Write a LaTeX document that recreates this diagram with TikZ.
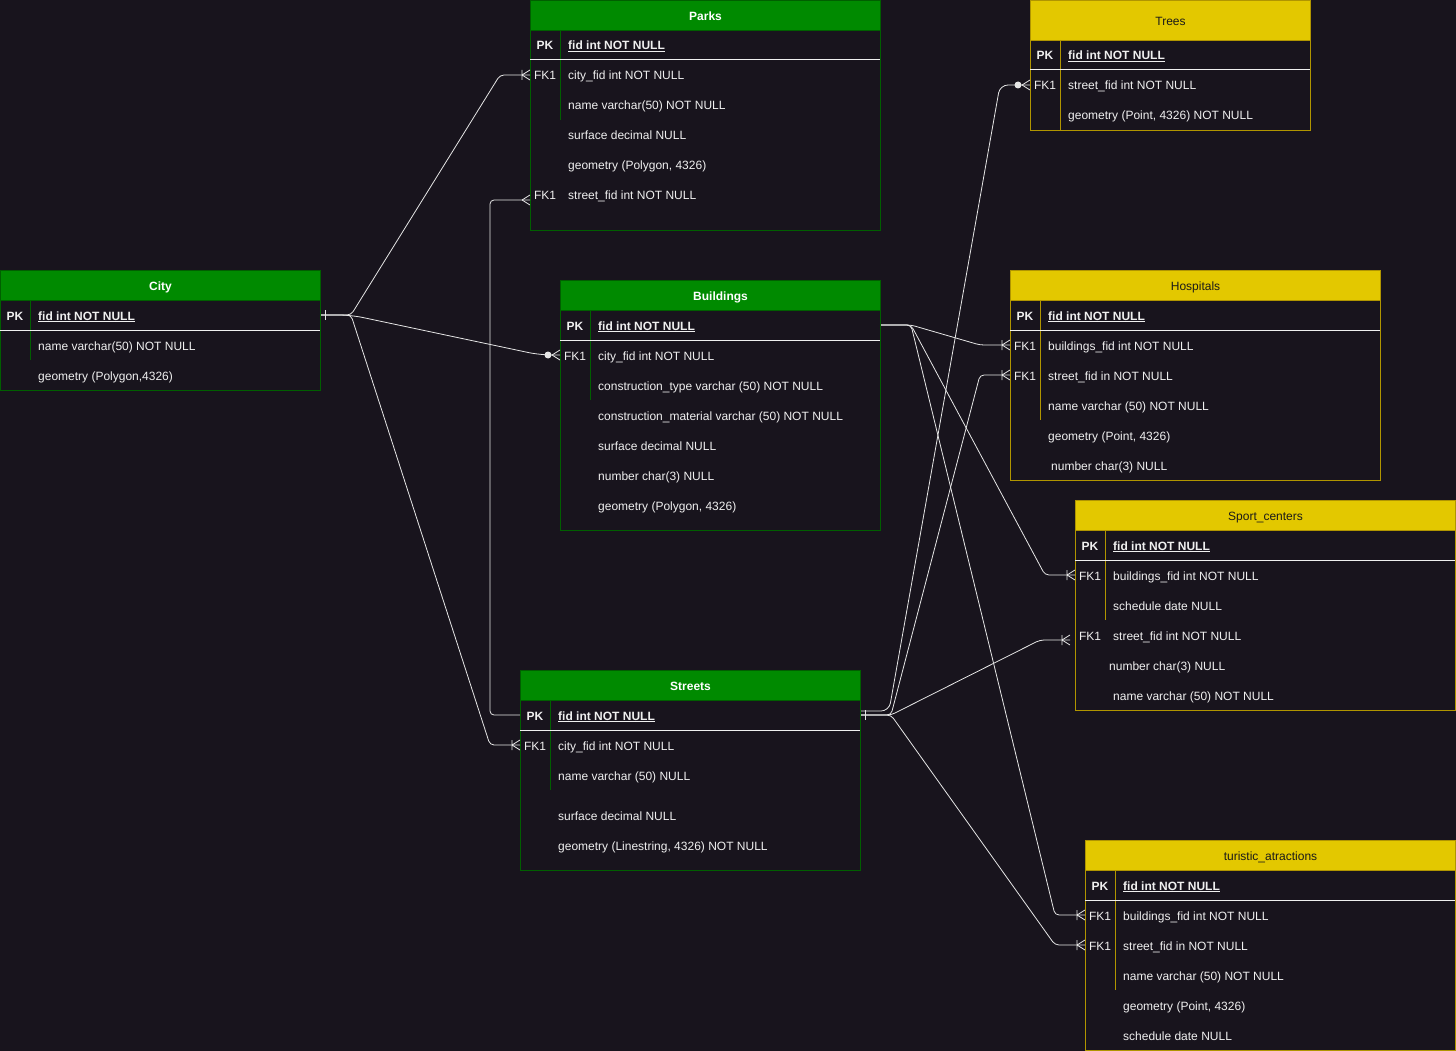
\documentclass[tikz,border=0pt]{standalone}
\usepackage{fontspec}
\setmainfont{Liberation Sans}
\usetikzlibrary{calc}
\definecolor{bg}{HTML}{18141D}
\definecolor{fg}{HTML}{F0F0F0}
\definecolor{grn}{HTML}{008A00}
\definecolor{grnline}{HTML}{005F00}
\definecolor{ylw}{HTML}{E3C800}
\definecolor{ylwline}{HTML}{B09500}
\definecolor{lnk}{HTML}{E6E6E6}
\definecolor{hdrtxt}{HTML}{1A1A1A}
\newcommand\erfont{\fontsize{12}{14}\selectfont}

\tikzset{
  every node/.style={font=\erfont, text=fg, inner sep=0pt},
  tblG/.style={draw=grnline, line width=1pt, fill=bg, anchor=north west},
  tblY/.style={draw=ylwline, line width=1pt, fill=bg, anchor=north west},
  hdrG/.style={tblG, fill=grn, text=white, font=\erfont\bfseries, minimum height=30pt, text height=10pt, text depth=0pt},
  hdrY/.style={tblY, fill=ylw, text=hdrtxt, minimum height=30pt, text height=10pt, text depth=0pt},
  key/.style={text height=10pt, text depth=0pt},
  pkkey/.style={key, font=\erfont\bfseries},
  fld/.style={anchor=west, text height=10pt, text depth=0pt},
  pkfld/.style={fld, font=\erfont\bfseries},
  divG/.style={draw=grnline, line width=1pt},
  divY/.style={draw=ylwline, line width=1pt},
  sep/.style={draw=fg, line width=1pt},
  conn/.style={draw=lnk, line width=0.8pt, rounded corners=4pt},
  % relation end markers
  barone/.pic={\draw[conn] (4,-5) -- (4,5);},
  crow/.pic={\draw[conn] (-8,0) -- (0,-5) (-8,0) -- (0,5);},
  crowbar/.pic={\draw[conn] (-8,0) -- (0,-5) (-8,0) -- (0,5) (-8,-5) -- (-8,5);},
  crowzero/.pic={\draw[conn] (-8,0) -- (0,-5) (-8,0) -- (0,5); \fill[lnk] (-12,0) circle (3.5);},
}

\begin{document}
\begin{tikzpicture}[x=1pt, y=-1pt]
  \fill[bg] (0,0) rectangle (1456,1051);
  \useasboundingbox (0,0) rectangle (1456,1051);

  % City
  \node[tblG, minimum width=320pt, minimum height=120pt] (city) at (0,270) {};
  \node[hdrG, minimum width=320pt] (city-h) at (city.north west) {City};
  \draw[divG] (30,300) -- (30,360);
  \draw[sep] (0,330) -- (320,330);
  \node[pkkey] (city-k1) at (15,315) {PK};
  \node[pkfld] (city-pk) at (38,315) {\underline{fid int NOT NULL}};
  \node[fld] (city-name) at (38,345) {name varchar(50) NOT NULL};
  \node[fld] (city-geom) at (38,375) {geometry (Polygon,4326)};

  % Parks
  \node[tblG, minimum width=350pt, minimum height=230pt] (parks) at (530,0) {};
  \node[hdrG, minimum width=350pt] (parks-h) at (parks.north west) {Parks};
  \draw[divG] (560,30) -- (560,120);
  \draw[sep] (530,60) -- (880,60);
  \node[pkkey] (parks-k1) at (545,45) {PK};
  \node[pkfld] (parks-pk) at (568,45) {\underline{fid int NOT NULL}};
  \node[key] (parks-k2) at (545,75) {FK1};
  \node[fld] (parks-city) at (568,75) {city\_fid int NOT NULL};
  \node[fld] (parks-name) at (568,105) {name varchar(50) NOT NULL};
  \node[fld] (parks-surf) at (568,135) {surface decimal NULL};
  \node[fld] (parks-geom) at (568,165) {geometry (Polygon, 4326)};
  \node[key] (parks-k3) at (545,195) {FK1};
  \node[fld] (parks-street) at (568,195) {street\_fid int NOT NULL};

  % Buildings
  \node[tblG, minimum width=320pt, minimum height=250pt] (bldg) at (560,280) {};
  \node[hdrG, minimum width=320pt] (bldg-h) at (bldg.north west) {Buildings};
  \draw[divG] (590,310) -- (590,400);
  \draw[sep] (560,340) -- (880,340);
  \node[pkkey] (bldg-k1) at (575,325) {PK};
  \node[pkfld] (bldg-pk) at (598,325) {\underline{fid int NOT NULL}};
  \node[key] (bldg-k2) at (575,355) {FK1};
  \node[fld] (bldg-city) at (598,355) {city\_fid int NOT NULL};
  \node[fld] (bldg-type) at (598,385) {construction\_type varchar (50) NOT NULL};
  \node[fld] (bldg-mat) at (598,415) {construction\_material varchar (50) NOT NULL};
  \node[fld] (bldg-surf) at (598,445) {surface decimal NULL};
  \node[fld] (bldg-num) at (598,475) {number char(3) NULL};
  \node[fld] (bldg-geom) at (598,505) {geometry (Polygon, 4326)};

  % Streets
  \node[tblG, minimum width=340pt, minimum height=200pt] (streets) at (520,670) {};
  \node[hdrG, minimum width=340pt] (streets-h) at (streets.north west) {Streets};
  \draw[divG] (550,700) -- (550,790);
  \draw[sep] (520,730) -- (860,730);
  \node[pkkey] (streets-k1) at (535,715) {PK};
  \node[pkfld] (streets-pk) at (558,715) {\underline{fid int NOT NULL}};
  \node[key] (streets-k2) at (535,745) {FK1};
  \node[fld] (streets-city) at (558,745) {city\_fid int NOT NULL};
  \node[fld] (streets-name) at (558,775) {name varchar (50) NULL};
  \node[fld] (streets-surf) at (558,815) {surface decimal NULL};
  \node[fld] (streets-geom) at (558,845) {geometry (Linestring, 4326) NOT NULL};

  % Trees
  \node[tblY, minimum width=280pt, minimum height=130pt] (trees) at (1030,0) {};
  \node[hdrY, minimum width=280pt, minimum height=40pt] (trees-h) at (trees.north west) {Trees};
  \draw[divY] (1060,40) -- (1060,130);
  \draw[sep] (1030,70) -- (1310,70);
  \node[pkkey] (trees-k1) at (1045,55) {PK};
  \node[pkfld] (trees-pk) at (1068,55) {\underline{fid int NOT NULL}};
  \node[key] (trees-k2) at (1045,85) {FK1};
  \node[fld] (trees-street) at (1068,85) {street\_fid int NOT NULL};
  \node[fld] (trees-geom) at (1068,115) {geometry (Point, 4326) NOT NULL};

  % Hospitals
  \node[tblY, minimum width=370pt, minimum height=210pt] (hosp) at (1010,270) {};
  \node[hdrY, minimum width=370pt] (hosp-h) at (hosp.north west) {Hospitals};
  \draw[divY] (1040,300) -- (1040,420);
  \draw[sep] (1010,330) -- (1380,330);
  \node[pkkey] (hosp-k1) at (1025,315) {PK};
  \node[pkfld] (hosp-pk) at (1048,315) {\underline{fid int NOT NULL}};
  \node[key] (hosp-k2) at (1025,345) {FK1};
  \node[fld] (hosp-bldg) at (1048,345) {buildings\_fid int NOT NULL};
  \node[key] (hosp-k3) at (1025,375) {FK1};
  \node[fld] (hosp-street) at (1048,375) {street\_fid in NOT NULL};
  \node[fld] (hosp-name) at (1048,405) {name varchar (50) NOT NULL};
  \node[fld] (hosp-geom) at (1048,435) {geometry (Point, 4326)};
  \node[fld] (hosp-num) at (1051,465) {number char(3) NULL};

  % Sport_centers
  \node[tblY, minimum width=380pt, minimum height=210pt] (sport) at (1075,500) {};
  \node[hdrY, minimum width=380pt] (sport-h) at (sport.north west) {Sport\_centers};
  \draw[divY] (1105,530) -- (1105,620);
  \draw[sep] (1075,560) -- (1455,560);
  \node[pkkey] (sport-k1) at (1090,545) {PK};
  \node[pkfld] (sport-pk) at (1113,545) {\underline{fid int NOT NULL}};
  \node[key] (sport-k2) at (1090,575) {FK1};
  \node[fld] (sport-bldg) at (1113,575) {buildings\_fid int NOT NULL};
  \node[fld] (sport-sched) at (1113,605) {schedule date NULL};
  \node[key] (sport-k3) at (1090,635) {FK1};
  \node[fld] (sport-street) at (1113,635) {street\_fid int NOT NULL};
  \node[fld] (sport-num) at (1109,665) {number char(3) NULL};
  \node[fld] (sport-name) at (1113,695) {name varchar (50) NOT NULL};

  % turistic_atractions
  \node[tblY, minimum width=370pt, minimum height=210pt] (tour) at (1085,840) {};
  \node[hdrY, minimum width=370pt] (tour-h) at (tour.north west) {turistic\_atractions};
  \draw[divY] (1115,870) -- (1115,990);
  \draw[sep] (1085,900) -- (1455,900);
  \node[pkkey] (tour-k1) at (1100,885) {PK};
  \node[pkfld] (tour-pk) at (1123,885) {\underline{fid int NOT NULL}};
  \node[key] (tour-k2) at (1100,915) {FK1};
  \node[fld] (tour-bldg) at (1123,915) {buildings\_fid int NOT NULL};
  \node[key] (tour-k3) at (1100,945) {FK1};
  \node[fld] (tour-street) at (1123,945) {street\_fid in NOT NULL};
  \node[fld] (tour-name) at (1123,975) {name varchar (50) NOT NULL};
  \node[fld] (tour-geom) at (1123,1005) {geometry (Point, 4326)};
  \node[fld] (tour-sched) at (1123,1035) {schedule date NULL};

  % relations from City
  \draw[conn] (city.east |- city-pk) -- ++(30,0) -- ($(parks.west |- parks-city)+(-30,0)$) -- (parks.west |- parks-city);
  \draw[conn, rounded corners=12pt] (city.east |- city-pk) -- ++(30,0) -- ($(bldg.west |- bldg-city)+(-20,0)$) -- (bldg.west |- bldg-city);
  \draw[conn] (city.east |- city-pk) -- ++(30,0) -- ($(streets.west |- streets-city)+(-30,0)$) -- (streets.west |- streets-city);
  \pic at (city.east |- city-pk) {barone};
  \pic at (parks.west |- parks-city) {crowbar};
  \pic at (bldg.west |- bldg-city) {crowzero};
  \pic at (streets.west |- streets-city) {crowbar};

  % relations from Streets
  \draw[conn] (streets.west |- streets-pk) -- ++(-30,0) |- ($(parks.west |- parks-street)+(0,5)$);
  \draw[conn, rounded corners=8pt] ($(streets.east |- streets-pk)+(0,-4)$) -- ++(28,0) -- ($(trees.west |- trees-street)+(-30,0)$) -- (trees.west |- trees-street);
  \draw[conn] (streets.east |- streets-pk) -- ++(30,0) -- ($(hosp.west |- hosp-street)+(-30,0)$) -- (hosp.west |- hosp-street);
  \draw[conn] (streets.east |- streets-pk) -- ++(30,0) -- ($(sport.west |- sport-street)+(-35,5)$) -- ($(sport.west |- sport-street)+(-5,5)$);
  \draw[conn] (streets.east |- streets-pk) -- ++(30,0) -- ($(tour.west |- tour-street)+(-30,0)$) -- (tour.west |- tour-street);
  \pic at (streets.east |- streets-pk) {barone};
  \pic at ($(parks.west |- parks-street)+(0,5)$) {crow};
  \pic at (trees.west |- trees-street) {crowzero};
  \pic at (hosp.west |- hosp-street) {crowbar};
  \pic at ($(sport.west |- sport-street)+(-5,5)$) {crowbar};
  \pic at (tour.west |- tour-street) {crowbar};

  % relations from Buildings
  \draw[conn] (bldg.east |- bldg-pk) -- ++(30,0) -- ($(hosp.west |- hosp-bldg)+(-30,0)$) -- (hosp.west |- hosp-bldg);
  \draw[conn] (bldg.east |- bldg-pk) -- ++(30,0) -- ($(sport.west |- sport-bldg)+(-30,0)$) -- (sport.west |- sport-bldg);
  \draw[conn] (bldg.east |- bldg-pk) -- ++(30,0) -- ($(tour.west |- tour-bldg)+(-30,0)$) -- (tour.west |- tour-bldg);
  \pic at (hosp.west |- hosp-bldg) {crowbar};
  \pic at (sport.west |- sport-bldg) {crowbar};
  \pic at (tour.west |- tour-bldg) {crowbar};
\end{tikzpicture}
\end{document}
